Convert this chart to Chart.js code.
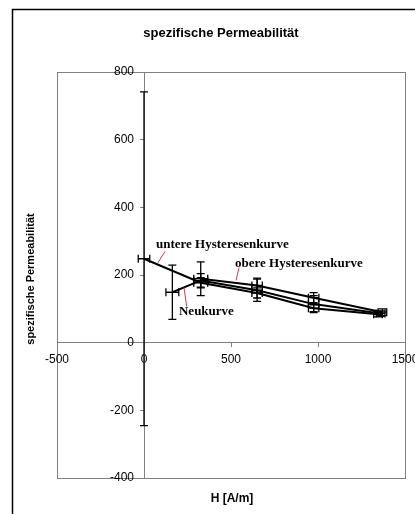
<!DOCTYPE html>
<html>
<head>
<meta charset="utf-8">
<script src="https://cdn.jsdelivr.net/npm/chart.js@4"></script>
<style>
  html, body { margin: 0; padding: 0; background: #fff; }
  #wrap { width: 415px; height: 514px; }
</style>
</head>
<body>
<div id="wrap"><canvas id="grafico" width="415" height="514"></canvas></div>
<script>
// Neukurve
const neuH = [163, 326, 650, 975, 1360];
const neuMu = [149, 184, 155, 114, 86];
const neuHErr = [37, 40, 30, 30, 25];
const neuMuErr = [80, 20, 33, 25, 8];

// untere Hysteresenkurve
const untH = [0, 326, 650, 975, 1345];
const untMu = [248, 177, 147, 102, 84];
const untHErr = [33, 40, 30, 30, 25];
const untMuErr = [493, 15, 15, 10, 8];

// obere Hysteresenkurve
const obH = [326, 650, 975, 1370];
const obMu = [189, 169, 133, 90];
const obHErr = [40, 30, 30, 25];
const obMuErr = [50, 22, 15, 10];

// Achsen
const xTicks = [-500, 0, 500, 1000, 1500];
const yTicks = [-400, -200, 0, 200, 400, 600, 800];

// Beschriftungen der Kurven (Text, Anker, Hinweislinie von/bis in Datenkoordinaten)
const kurvenText = ['untere Hysteresenkurve', 'obere Hysteresenkurve', 'Neukurve'];
const textPos = [[69, 290], [523, 234], [201, 92]];
const linieVon = [[121, 270], [546, 222], [245, 107]];
const linieBis = [[80, 236], [529, 184], [230, 163]];

function punkte(hs, mus) {
    return hs.map(function(h, i) { return { x: h, y: mus[i] }; });
}

function serie(label, hs, mus, hErr, muErr) {
    return {
        label: label,
        data: punkte(hs, mus),
        errX: hErr,
        errY: muErr,
        showLine: true,
        borderColor: '#000',
        borderWidth: 2,
        pointRadius: 0,
        tension: 0
    };
}

// Fehlerbalken zeichnen
const fehlerbalken = {
    id: 'fehlerbalken',
    afterDatasetsDraw(chart) {
        const ctx = chart.ctx;
        const xs = chart.scales.x, ys = chart.scales.y;
        ctx.save();
        ctx.strokeStyle = '#000';
        ctx.lineWidth = 1.3;
        chart.data.datasets.forEach(function(ds) {
            ds.data.forEach(function(p, i) {
                const px = xs.getPixelForValue(p.x);
                const py = ys.getPixelForValue(p.y);
                const y1 = ys.getPixelForValue(p.y + ds.errY[i]);
                const y2 = ys.getPixelForValue(p.y - ds.errY[i]);
                const x1 = xs.getPixelForValue(p.x - ds.errX[i]);
                const x2 = xs.getPixelForValue(p.x + ds.errX[i]);
                ctx.beginPath();
                ctx.moveTo(px, y1); ctx.lineTo(px, y2);
                ctx.moveTo(px - 4, y1); ctx.lineTo(px + 4, y1);
                ctx.moveTo(px - 4, y2); ctx.lineTo(px + 4, y2);
                ctx.moveTo(x1, py); ctx.lineTo(x2, py);
                ctx.moveTo(x1, py - 4); ctx.lineTo(x1, py + 4);
                ctx.moveTo(x2, py - 4); ctx.lineTo(x2, py + 4);
                ctx.stroke();
            });
        });
        ctx.restore();
    }
};

// Rahmen, Titel und Beschriftungen
const rahmen = {
    id: 'rahmen',
    beforeDraw(chart) {
        const ctx = chart.ctx;
        const a = chart.chartArea;
        ctx.save();
        ctx.fillStyle = '#fff';
        ctx.fillRect(0, 0, chart.width, chart.height);
        ctx.strokeStyle = '#000';
        ctx.lineWidth = 1.5;
        ctx.strokeRect(12.5, 9.5, 600, 600);
        ctx.strokeStyle = '#808080';
        ctx.lineWidth = 1;
        ctx.strokeRect(a.left + 0.5, a.top + 0.5, a.right - a.left, a.bottom - a.top);
        ctx.restore();
    },
    afterDraw(chart) {
        const ctx = chart.ctx;
        const xs = chart.scales.x, ys = chart.scales.y;
        ctx.save();
        ctx.fillStyle = '#000';
        ctx.textAlign = 'center';
        ctx.textBaseline = 'middle';
        ctx.font = 'bold 13px "Liberation Sans", Arial, sans-serif';
        ctx.fillText('spezifische Permeabilität', 221, 33);
        ctx.font = 'bold 12px "Liberation Sans", Arial, sans-serif';
        ctx.fillText('H [A/m]', 232, 499);
        ctx.save();
        ctx.translate(31, 279);
        ctx.rotate(-Math.PI / 2);
        ctx.font = 'bold 11px "Liberation Sans", Arial, sans-serif';
        ctx.fillText('spezifische Permeabilität', 0, 0);
        ctx.restore();

        // Hinweislinien
        ctx.strokeStyle = '#c0405a';
        ctx.lineWidth = 1;
        linieVon.forEach(function(v, i) {
            ctx.beginPath();
            ctx.moveTo(xs.getPixelForValue(v[0]), ys.getPixelForValue(v[1]));
            ctx.lineTo(xs.getPixelForValue(linieBis[i][0]), ys.getPixelForValue(linieBis[i][1]));
            ctx.stroke();
        });
        ctx.textAlign = 'left';
        ctx.font = 'bold 13px "Liberation Serif", "Times New Roman", serif';
        kurvenText.forEach(function(t, i) {
            ctx.fillText(t, xs.getPixelForValue(textPos[i][0]), ys.getPixelForValue(textPos[i][1]));
        });
        ctx.restore();
    }
};

function ohnePadding(scale) {
    scale.paddingLeft = 0;
    scale.paddingRight = 0;
    scale.paddingTop = 0;
    scale.paddingBottom = 0;
}

const config = {
    type: 'scatter',
    data: {
        datasets: [
            serie('Neukurve', neuH, neuMu, neuHErr, neuMuErr),
            serie('untere Hysteresenkurve', untH, untMu, untHErr, untMuErr),
            serie('obere Hysteresenkurve', obH, obMu, obHErr, obMuErr)
        ]
    },
    options: {
        responsive: false,
        animation: false,
        layout: { padding: { left: 57, right: 10, top: 72, bottom: 36 } },
        plugins: {
            legend: { display: false },
            title: { display: false },
            tooltip: { enabled: false }
        },
        scales: {
            x: {
                type: 'linear',
                position: { y: 0 },
                min: -500,
                max: 1500,
                afterBuildTicks: function(axis) { axis.ticks = xTicks.map(function(v) { return { value: v }; }); },
                afterFit: ohnePadding,
                grid: { drawOnChartArea: false, drawTicks: true, tickLength: 4, color: '#808080' },
                border: { color: '#808080', width: 1 },
                ticks: {
                    color: '#000', padding: 6, maxRotation: 0,
                    callback: function(v) { return String(v); },
                    font: { family: '"Liberation Sans", Arial, sans-serif', size: 12 }
                }
            },
            y: {
                type: 'linear',
                position: { x: 0 },
                min: -400,
                max: 800,
                afterBuildTicks: function(axis) { axis.ticks = yTicks.map(function(v) { return { value: v }; }); },
                afterFit: ohnePadding,
                grid: { drawOnChartArea: false, drawTicks: true, tickLength: 4, color: '#808080' },
                border: { color: '#808080', width: 1 },
                ticks: {
                    color: '#000',
                    // Abstand zur Achse (bei mittiger Achse ignoriert Chart.js das Padding)
                    callback: function(v) { return String(v) + '   '; },
                    font: { family: '"Liberation Sans", Arial, sans-serif', size: 12 }
                }
            }
        }
    },
    plugins: [rahmen, fehlerbalken]
};

window.onload = function() {
    new Chart(document.getElementById('grafico'), config);
};
</script>
</body>
</html>
